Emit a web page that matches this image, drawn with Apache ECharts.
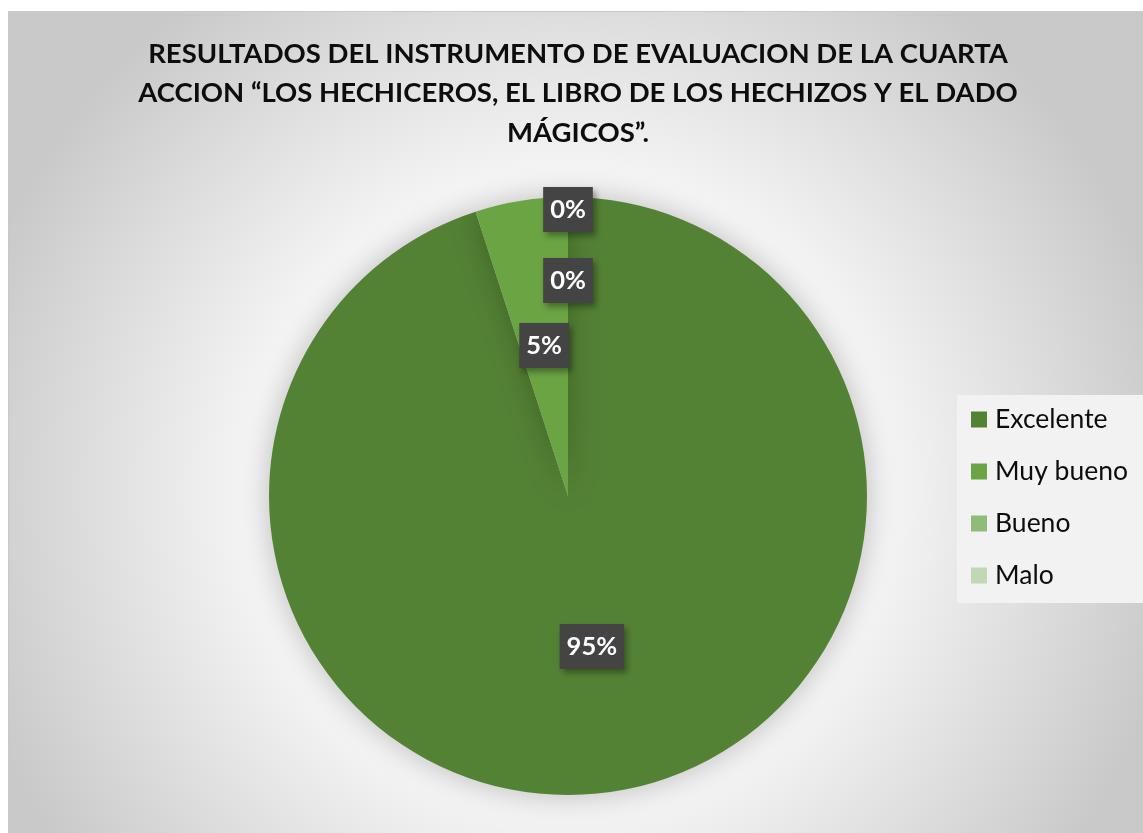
<!DOCTYPE html>
<html>
<head>
<meta charset="utf-8">
<script src="https://cdn.jsdelivr.net/npm/echarts@6/dist/echarts.min.js"></script>
<style>
html, body { margin: 0; padding: 0; background: #ffffff; overflow: hidden; }
#chart { position: absolute; left: 8px; top: 11px; width: 1140px; height: 828px; border: 1px solid #c8c8c8; box-sizing: border-box; }
</style>
</head>
<body>
<div id="chart"></div>
<script>
var categories = ['Excelente', 'Muy bueno', 'Bueno', 'Malo']
var values = [95, 5, 0, 0]
var colors = ['#548235', '#6aa443', '#8fbc78', '#c0d9b4']
var titleText = 'RESULTADOS DEL INSTRUMENTO DE EVALUACION DE LA CUARTA\nACCION \u201cLOS HECHICEROS, EL LIBRO DE LOS HECHIZOS Y EL DADO\nM\u00c1GICOS\u201d.'

function buildData(){
    var out = []
    for (var i = 0; i < categories.length; i++){
        out.push({name: categories[i], value: values[i], itemStyle: {color: colors[i]}})
    }
    return(out)
}

// zero slices sit on top of each other at 12 o'clock, push them outward like Excel does
var zeroShift = [0, 0, -63, -134]

var myChart = echarts.init(document.getElementById('chart'))
var option = {
    backgroundColor: {
        type: 'radial', x: 0.49, y: 0.58, r: 0.75,
        colorStops: [
            {offset: 0, color: '#ffffff'},
            {offset: 0.45, color: '#fafafa'},
            {offset: 1, color: '#c9c9c9'}
        ]
    },
    title: {
        text: titleText,
        left: 'center',
        top: 17,
        textStyle: {
            fontFamily: 'Lato',
            fontWeight: 'bold',
            fontSize: 27.5,
            lineHeight: 39.5,
            color: '#0d0d0d'
        }
    },
    legend: {
        orient: 'vertical',
        left: 948,
        top: 383,
        padding: [11, 40, 14, 14],
        backgroundColor: '#f2f2f2',
        itemWidth: 16,
        itemHeight: 16,
        itemGap: 25,
        icon: 'rect',
        data: categories,
        textStyle: {fontFamily: 'Lato', fontSize: 26.5, lineHeight: 26, color: '#0d0d0d', padding: [0, 0, 0, 3]}
    },
    series: [{
        type: 'pie',
        center: [559, 484],
        radius: [0, 299],
        startAngle: 90,
        clockwise: true,
        avoidLabelOverlap: false,
        data: buildData(),
        itemStyle: {shadowBlur: 30, shadowColor: 'rgba(0,0,0,0.25)'},
        label: {
            show: true,
            position: 'inside',
            formatter: '{d}%',
            fontFamily: 'Lato',
            fontWeight: 'bold',
            fontSize: 25.5,
            lineHeight: 25,
            color: '#ffffff',
            backgroundColor: '#444444',
            padding: [10, 7, 10, 7],
            shadowBlur: 6,
            shadowOffsetX: 3,
            shadowOffsetY: 4,
            shadowColor: 'rgba(0,0,0,0.35)'
        },
        labelLayout: function(params){
            return {dy: zeroShift[params.dataIndex]}
        },
        emphasis: {disabled: true}
    }]
}
myChart.setOption(option)
</script>
</body>
</html>
